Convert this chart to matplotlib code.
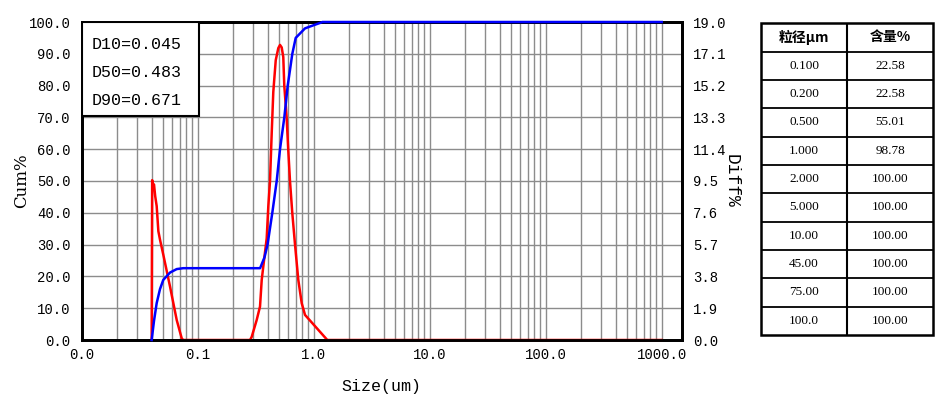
import numpy as np
import matplotlib
matplotlib.use("Agg")
import matplotlib.pyplot as plt
from matplotlib.patches import Rectangle
from matplotlib.ticker import FixedLocator, LogLocator, NullFormatter

# cumulative curve (Cum%, left axis)
cum_size = [0.0401, 0.0420, 0.0443, 0.0473, 0.0505, 0.0577, 0.0659, 0.075,
            0.345, 0.3514, 0.3766, 0.40, 0.4397, 0.4798, 0.5123, 0.558,
            0.597, 0.6541, 0.6996, 0.8414, 1.0, 1.133, 1.19, 1000.0]
cum_val = [0.0, 6.0, 11.6, 16.0, 18.9, 21.2, 22.3, 22.58,
           22.58, 23.3, 26.0, 30.0, 40.0, 50.0, 60.0, 70.0,
           80.0, 90.0, 95.0, 98.0, 99.0, 99.7, 100.0, 100.0]

# differential curve (Diff%, right axis)
diff_size = [0.0401, 0.0405, 0.0412, 0.0420, 0.0430, 0.0443, 0.0458, 0.0473,
             0.0505, 0.0577, 0.0659, 0.0728, 0.075,
             0.2826, 0.2922, 0.3226, 0.3445, 0.3563, 0.3729, 0.3934, 0.4061,
             0.4201, 0.4344, 0.4484, 0.4707, 0.4953, 0.5123, 0.5298, 0.5467,
             0.5576, 0.5843, 0.6030, 0.6246, 0.6535, 0.6901, 0.7366, 0.7882,
             0.8414, 1.310, 1000.0]
diff_val = [0.0, 9.55, 9.2, 9.3, 8.6, 8.0, 6.5, 6.0,
            5.1, 3.2, 1.2, 0.1, 0.0,
            0.0, 0.19, 1.2, 2.0, 3.59, 4.75, 6.08, 7.98,
            9.5, 12.35, 14.82, 16.72, 17.44, 17.63, 17.48, 16.91,
            15.2, 13.3, 11.4, 9.5, 7.6, 5.7, 3.59, 2.2,
            1.5, 0.0, 0.0]

x_ticks = [0.01, 0.1, 1, 10, 100, 1000]
x_labels = ["0.0", "0.1", "1.0", "10.0", "100.0", "1000.0"]
cum_ticks = [0, 10, 20, 30, 40, 50, 60, 70, 80, 90, 100]
diff_ticks = [0.0, 1.9, 3.8, 5.7, 7.6, 9.5, 11.4, 13.3, 15.2, 17.1, 19.0]

d_labels = ["D10=0.045", "D50=0.483", "D90=0.671"]

tbl_size = ["0.100", "0.200", "0.500", "1.000", "2.000", "5.000",
            "10.00", "45.00", "75.00", "100.0"]
tbl_cum = ["22.58", "22.58", "55.01", "98.78", "100.00", "100.00",
           "100.00", "100.00", "100.00", "100.00"]

mono = "Liberation Mono"

fig = plt.figure(figsize=(9.41, 4.11), dpi=100)

# base axes: Diff% (grid + red), labels on the right
ax_d = fig.add_axes([81.7 / 941, 71 / 411, 600.3 / 941, 318 / 411])
ax_d.set_xscale("log")
ax_d.set_xlim(0.01, 1496)
ax_d.set_ylim(0, 19)

# twin axes: Cum% (blue), labels on the left
ax_c = ax_d.twinx()
ax_c.set_ylim(0, 100)

ax_d.xaxis.set_major_locator(FixedLocator(x_ticks))
ax_d.set_xticklabels(x_labels, fontfamily=mono, fontsize=10)
ax_d.xaxis.set_minor_locator(LogLocator(base=10, subs=np.arange(2, 10), numticks=20))
ax_d.xaxis.set_minor_formatter(NullFormatter())

ax_d.set_yticks(diff_ticks)
ax_d.set_yticklabels(["%.1f" % v for v in diff_ticks], fontfamily=mono, fontsize=10)
ax_d.yaxis.tick_right()
ax_d.yaxis.set_label_position("right")

ax_c.set_yticks(cum_ticks)
ax_c.set_yticklabels(["%.1f" % v for v in cum_ticks], fontfamily=mono, fontsize=10)
ax_c.yaxis.tick_left()
ax_c.yaxis.set_label_position("left")

for a in (ax_d, ax_c):
    a.tick_params(axis="both", which="both", length=0)
    a.tick_params(axis="y", pad=8)
    for sp in a.spines.values():
        sp.set_linewidth(2.0)
        sp.set_color("black")
ax_d.tick_params(axis="x", pad=6)

ax_d.grid(True, which="both", axis="x", color="#8c8c8c", lw=1.0)
ax_d.grid(True, which="major", axis="y", color="#8c8c8c", lw=1.0)
ax_d.set_axisbelow(True)

ax_d.plot(diff_size, diff_val, color="#ff0000", lw=1.8, clip_on=False, zorder=3)
ax_c.plot(cum_size, cum_val, color="#0000ff", lw=1.8, clip_on=False, zorder=4)

ax_d.set_ylabel("Diff%", rotation=270, fontfamily=mono, fontsize=13, labelpad=-3,
                va="bottom")
ax_c.set_ylabel("Cum%", fontfamily="DejaVu Serif", fontsize=12, labelpad=-1)
ax_d.set_xlabel("Size(um)", fontfamily=mono, fontsize=12, labelpad=12)

# D-value box
ax_c.add_patch(Rectangle((0, 0.704), 0.195, 0.296, transform=ax_c.transAxes,
                         facecolor="white", edgecolor="black", lw=1.5, zorder=5))
for i, t in enumerate(d_labels):
    ax_c.text(0.017, 0.93 - i * 0.088, t, transform=ax_c.transAxes,
              fontfamily=mono, fontsize=12, va="center", ha="left", zorder=6)

# table on the right
ax_t = fig.add_axes([761 / 941, 76 / 411, 172.3 / 941, 311.7 / 411])
ax_t.set_xlim(0, 1)
n_rows = len(tbl_size) + 1
ax_t.set_ylim(0, n_rows)
ax_t.axis("off")
for r in range(1, n_rows):
    ax_t.plot([0, 1], [r, r], color="black", lw=1.3)
ax_t.plot([0.5, 0.5], [0, n_rows], color="black", lw=1.5)
ax_t.add_patch(Rectangle((0, 0), 1, n_rows, fill=False, edgecolor="black", lw=1.8,
                         clip_on=False))
cjk = ["Noto Sans CJK SC", "DejaVu Sans"]
ax_t.text(0.25, n_rows - 0.5, "粒径μm", ha="center", va="center",
          fontfamily=cjk, fontsize=10, fontweight="bold")
ax_t.text(0.75, n_rows - 0.5, "含量%", ha="center", va="center",
          fontfamily=cjk, fontsize=10, fontweight="bold")
for i, (s, c) in enumerate(zip(tbl_size, tbl_cum)):
    y = n_rows - 1.5 - i
    ax_t.text(0.25, y, s, ha="center", va="center", fontfamily="Liberation Serif", fontsize=9.5)
    ax_t.text(0.75, y, c, ha="center", va="center", fontfamily="Liberation Serif", fontsize=9.5)

fig.savefig("out.png", dpi=100, facecolor="white")
